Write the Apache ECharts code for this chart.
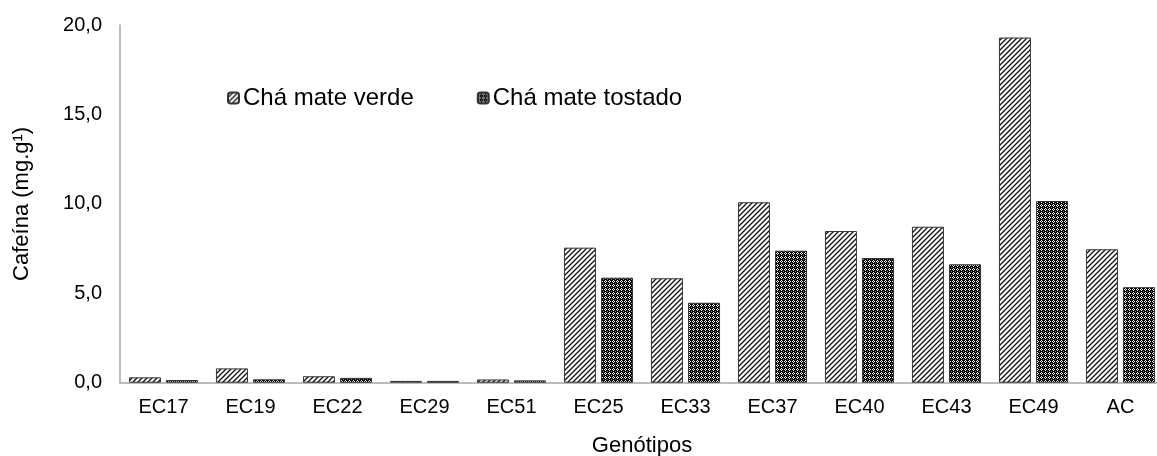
<!DOCTYPE html>
<html>
<head>
<meta charset="utf-8">
<script src="https://cdn.jsdelivr.net/npm/echarts@6/dist/echarts.min.js"></script>
<style>
html,body{margin:0;padding:0;background:#fff;}
#chart{width:1157px;height:456px;}
</style>
</head>
<body>
<div id="chart"></div>
<script>
const categories = ['EC17','EC19','EC22','EC29','EC51','EC25','EC33','EC37','EC40','EC43','EC49','AC'];
const verde =   [0.30, 0.80, 0.36, 0.10, 0.18, 7.55, 5.84, 10.09, 8.48, 8.72, 19.30, 7.46];
const tostado = [0.15, 0.19, 0.27, 0.10, 0.13, 5.87, 4.47, 7.38, 6.97, 6.62, 10.16, 5.34];
const yTicks = [0, 5, 10, 15, 20];

function hatch() {
  const c = document.createElement('canvas');
  c.width = 5; c.height = 5;
  const g = c.getContext('2d');
  g.fillStyle = '#fff'; g.fillRect(0,0,5,5);
  g.strokeStyle = '#111'; g.lineWidth = 1.3;
  g.beginPath();
  g.moveTo(-1,6); g.lineTo(6,-1);
  g.moveTo(-1,1); g.lineTo(1,-1);
  g.moveTo(4,6); g.lineTo(6,4);
  g.stroke();
  return c;
}
function dots() {
  const c = document.createElement('canvas');
  c.width = 4; c.height = 4;
  const g = c.getContext('2d');
  g.fillStyle = '#000'; g.fillRect(0,0,4,4);
  g.fillStyle = '#fff';
  g.fillRect(1,0,1,1); g.fillRect(0,1,1,1); g.fillRect(2,1,1,1); g.fillRect(1,2,1,1);
  g.fillStyle = '#888';
  g.fillRect(3,3,1,1);
  return c;
}
const pVerde = {image: hatch(), repeat: 'repeat'};
const pTost = {image: dots(), repeat: 'repeat'};

const chart = echarts.init(document.getElementById('chart'));
const font = 'Liberation Sans, Arial, sans-serif';
chart.setOption({
  animation: false,
  textStyle: {fontFamily: font},
  legend: {
    left: 222, top: 81,
    itemWidth: 11, itemHeight: 11, itemGap: 63,
    textStyle: {fontSize: 24, color: '#000', fontFamily: font, padding: [0,0,0,-1]},
    data: ['Chá mate verde', 'Chá mate tostado']
  },
  grid: {left: 120, top: 25, width: 1044, height: 357.7, containLabel: false, outerBoundsMode: 'none'},
  xAxis: {
    type: 'category', data: categories,
    axisLine: {lineStyle: {color: '#a6a6a6', width: 1.5}},
    axisTick: {show: false},
    axisLabel: {fontSize: 20, color: '#000', margin: 15, fontFamily: font},
    name: 'Genótipos', nameLocation: 'middle', nameGap: 52,
    nameTextStyle: {fontSize: 22, color: '#000', fontFamily: font}
  },
  yAxis: {
    type: 'value', min: yTicks[0], max: yTicks[yTicks.length-1], interval: 5,
    axisLine: {show: true, lineStyle: {color: '#a6a6a6', width: 1.5}},
    axisTick: {show: false},
    splitLine: {show: false},
    axisLabel: {fontSize: 20, color: '#000', margin: 18, fontFamily: font,
      formatter: v => v.toFixed(1).replace('.', ',')},
    name: 'Cafeína (mg.g¹)', nameLocation: 'middle', nameGap: 87, nameRotate: 90,
    nameTextStyle: {fontSize: 22, color: '#000', fontFamily: font}
  },
  series: [
    {name: 'Chá mate verde', type: 'bar', data: verde, barWidth: 32, barGap: '16%',
     itemStyle: {color: pVerde, borderColor: '#333', borderWidth: 1}},
    {name: 'Chá mate tostado', type: 'bar', data: tostado, barWidth: 32, barGap: '16%',
     itemStyle: {color: pTost, borderColor: '#333', borderWidth: 1}}
  ]
});
</script>
</body>
</html>
